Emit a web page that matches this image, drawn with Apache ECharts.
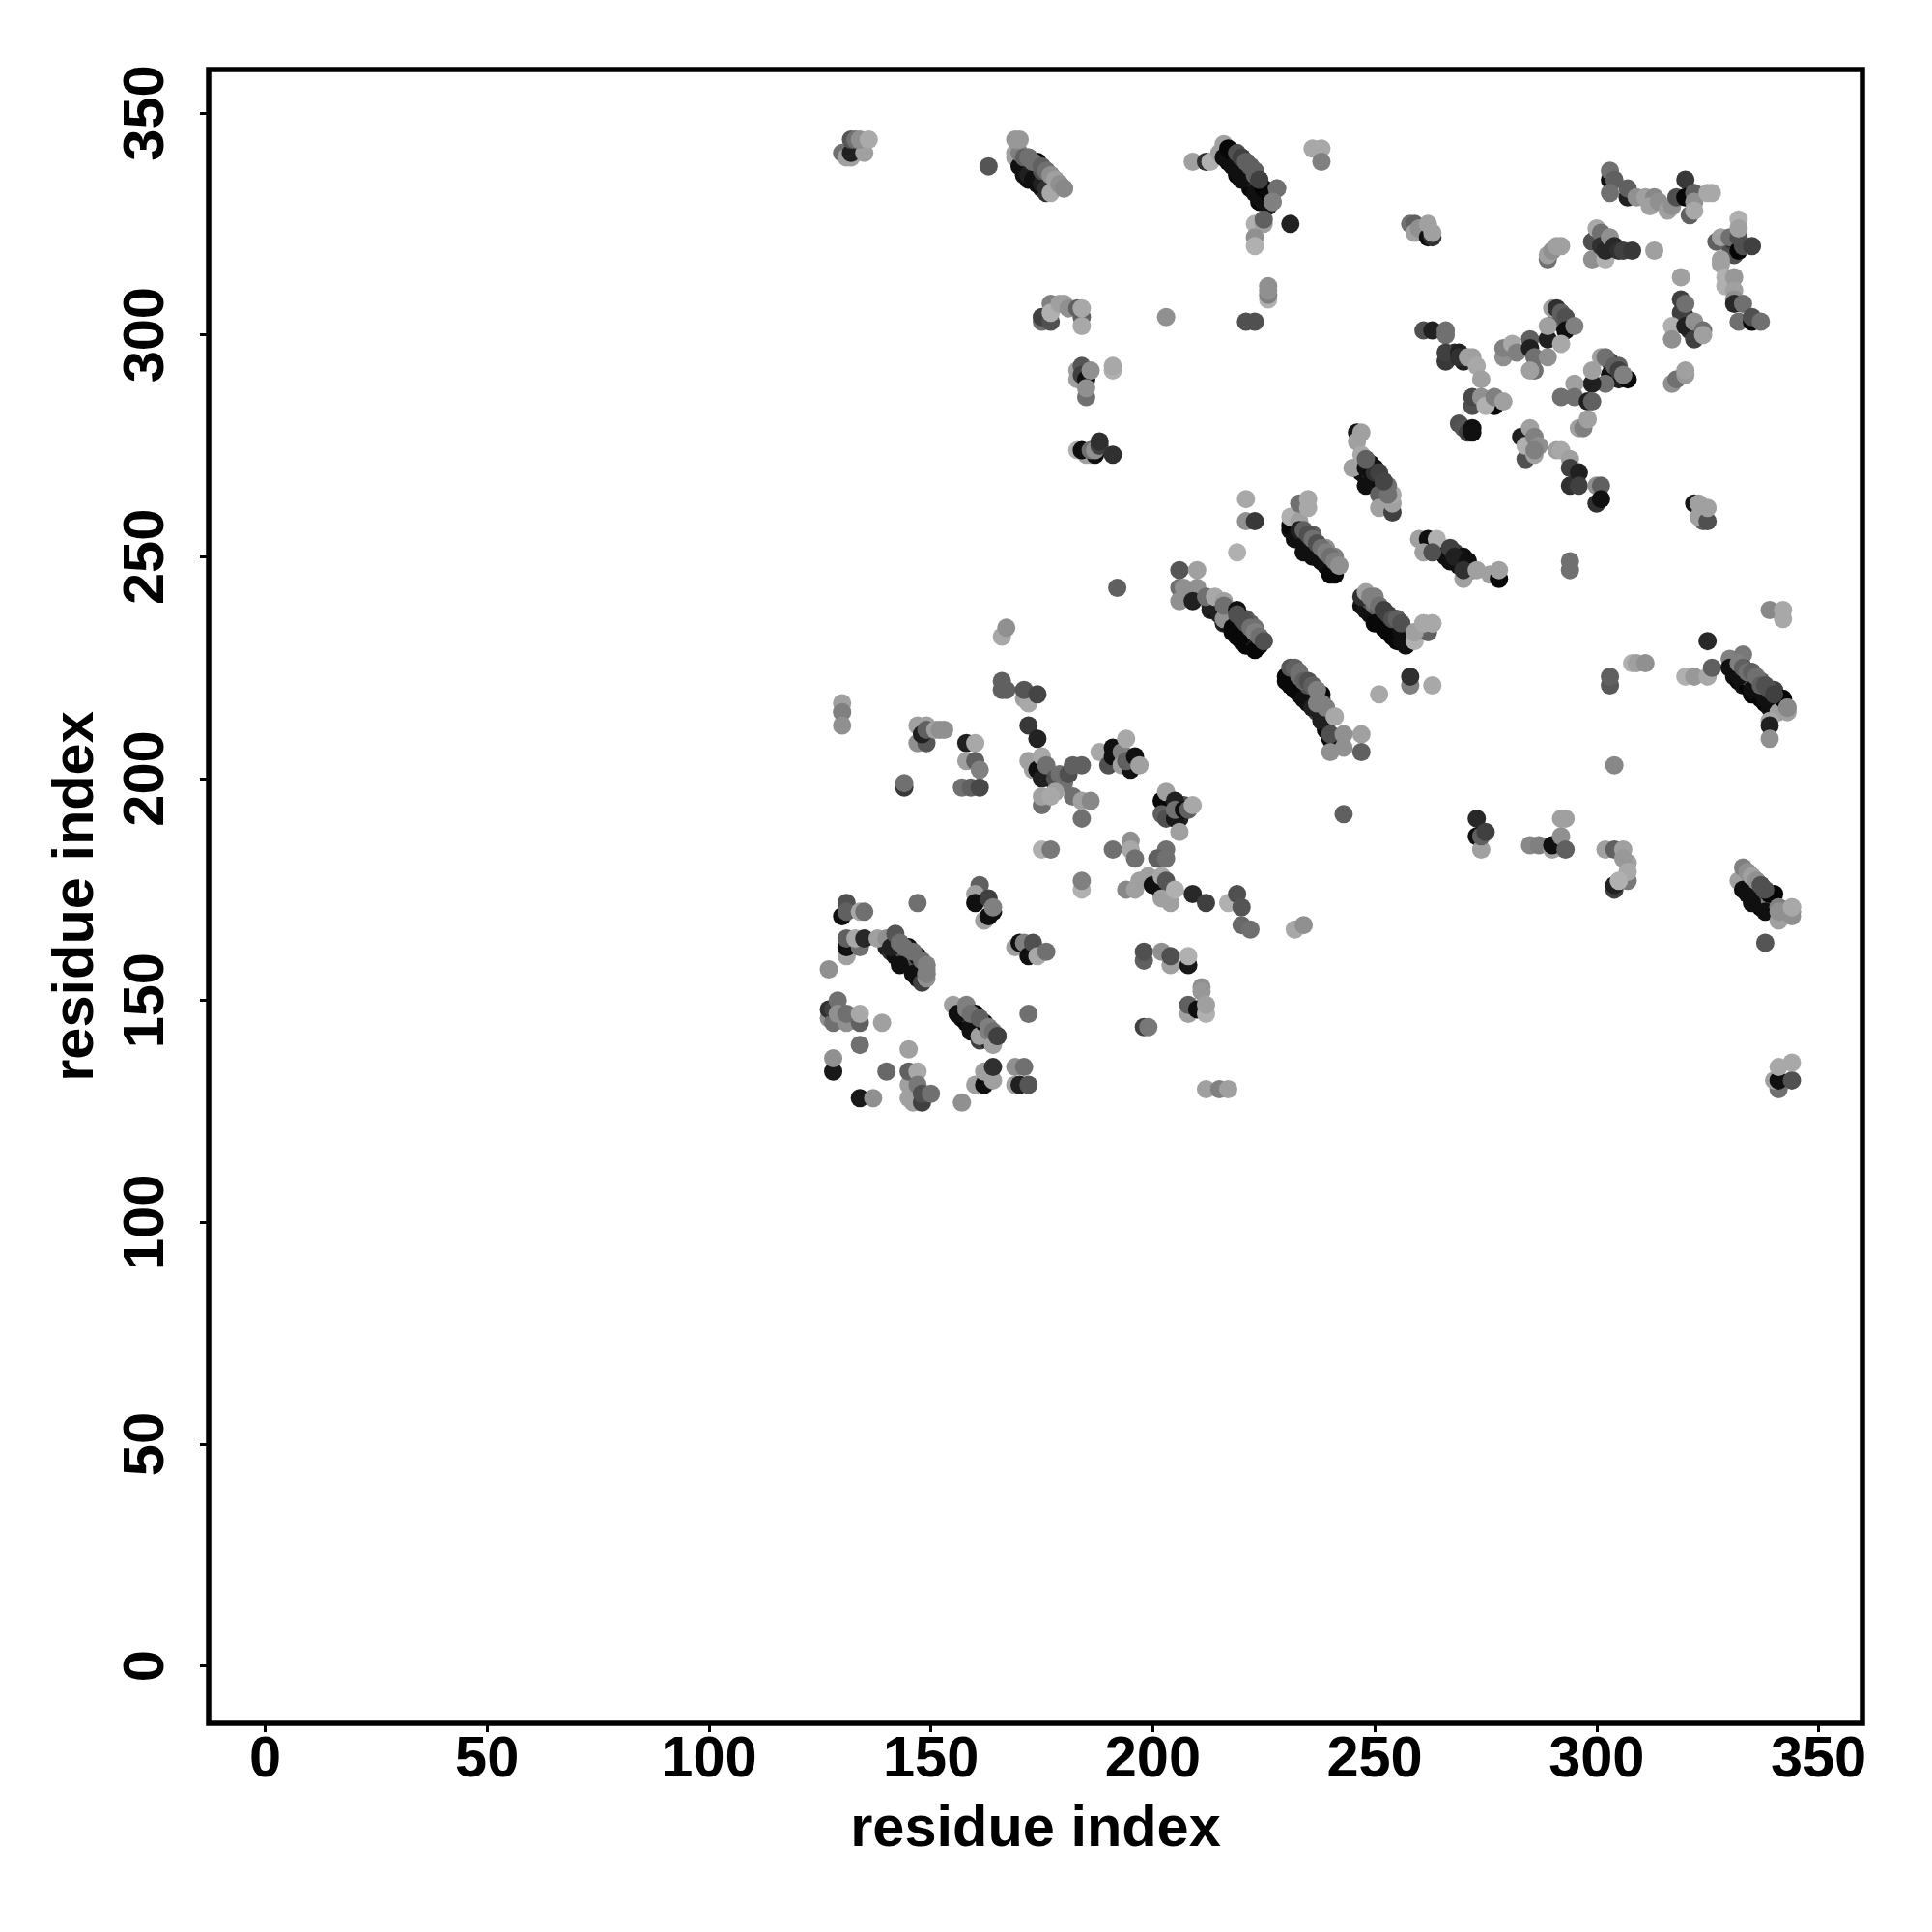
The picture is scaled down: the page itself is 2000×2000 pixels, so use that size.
<!DOCTYPE html>
<html><head><meta charset="utf-8">
<script src="https://cdn.jsdelivr.net/npm/echarts@6/dist/echarts.min.js"></script>
<style>html,body{margin:0;padding:0;background:#fff}#c{width:2000px;height:2000px}</style>
</head><body><div id="c"></div>
<script>
const tickValues=[0,50,100,150,200,250,300,350];
const axisTitle="residue index";
// each point: [residue x, residue y, grey level]; later points sit on top
const clusterFill=[[303,294,0x40],[304,291,0x20],[305,290,0x20],[303,291,0x10],[305,293,0x60],[291,303,0x30],[292,303,0x20],[291,304,0x50],[293,303,0x60],
[192,204,0x10],[192,206,0x20],[193,205,0x40],[195,204,0x20],[196,204,0x40],[203,194,0x10],[204,193,0x20],[204,192,0x30],[205,192,0x10],[206,191,0x20],[204,195,0x60],[206,194,0x80],[207,194,0x50],
[301,321,0x40],[302,322,0x60],[300,322,0x30],[319,303,0x20],[320,304,0x30],[321,301,0x30],[331,320,0x20],[330,320,0x50],[331,321,0x30],[267,295,0x30],[268,296,0x30],[270,294,0x20]];
const bandUnderlay=[[231,256,0x10],[232,255,0x10],[233,254,0x08],[234,253,0x10],[235,252,0x08],[236,251,0x10],[237,250,0x08],[238,249,0x10],[239,248,0x08],[240,247,0x10],[241,246,0x08],[233,257,0x30],[234,255,0x50],[235,254,0x50],[236,253,0x40],[237,252,0x60],[238,251,0x50],[239,250,0x60],[240,249,0x50],[241,248,0x70],
[246,270,0x10],[247,269,0x10],[248,268,0x10],[249,267,0x10],[250,266,0x10],[251,265,0x20],[252,264,0x30],[247,271,0x50],[248,271,0x40],[249,269,0x40],[250,270,0x10],[251,268,0x30],[252,266,0x50],[253,265,0x60],[253,263,0x70],
[213,238,0x20],[214,238,0x15],[215,237,0x20],[216,235,0x20],[217,235,0x10],[218,233,0x08],[219,232,0x08],[220,231,0x08],[221,230,0x08],[222,230,0x08],[217,237,0x60],[218,236,0x50],[219,235,0x40],[220,234,0x40],[221,233,0x40],[222,232,0x30],[223,231,0x30],[224,231,0x30],[221,236,0x55],[222,235,0x60],[223,234,0x70],[224,232,0x55],
[247,239,0x10],[248,238,0x15],[249,237,0x10],[250,236,0x10],[251,235,0x08],[252,234,0x08],[253,234,0x08],[254,232,0x08],[255,231,0x08],[256,231,0x10],[249,240,0x50],[250,239,0x70],[251,238,0x60],[252,237,0x40],[253,236,0x40],[254,235,0x50],[255,234,0x40],[256,234,0x30],
[264,252,0x30],[265,251,0x20],[266,250,0x10],[268,249,0x10],[269,248,0x10],[270,248,0x20],[271,247,0x30],[272,247,0x70],[268,251,0x40],[269,250,0x30],[270,250,0x10],
[230,223,0x08],[231,221,0x08],[232,221,0x08],[233,219,0x10],[234,218,0x10],[235,217,0x10],[236,216,0x20],[237,215,0x40],[238,214,0x20],[239,212,0x30],[239,211,0x08],[232,224,0x50],[233,222,0x60],[234,222,0x60],[236,220,0x60],[237,219,0x70],[238,218,0x60],
[217,339,0x08],[218,339,0x08],[219,336,0x08],[220,336,0x08],[221,335,0x08],[222,333,0x08],[223,333,0x08],[224,330,0x08],[225,330,0x08],[218,340,0x20],[219,339,0x40],[220,338,0x50],[221,337,0x60],[222,336,0x60],[223,335,0x40],[224,333,0x30],[225,331,0x10],[226,331,0x08],[226,329,0x20],
[171,339,0x30],[172,338,0x50],[173,337,0x30],[174,336,0x50],[175,335,0x30],[176,335,0x50],[177,334,0x60],[178,334,0x80],[171,336,0x10],[172,335,0x10],[175,333,0x10],[176,332,0x30],
[140,162,0x20],[141,161,0x30],[142,160,0x10],[143,160,0x10],[144,159,0x10],[145,158,0x10],[146,157,0x10],[147,155,0x10],[148,156,0x20],[144,161,0x50],[146,160,0x60],[147,158,0x50],[148,158,0x30],[149,157,0x70],[142,163,0x60],[141,163,0x50],
[157,146,0x10],[158,145,0x08],[159,143,0x10],[160,143,0x10],[161,141,0x40],[162,142,0x20],[163,141,0x20],[164,141,0x10],[158,147,0x40],[159,146,0x40],[161,145,0x30],[162,144,0x50],[164,142,0x60],[156,148,0x90],
[331,223,0x10],[332,222,0x08],[333,221,0x10],[334,221,0x05],[335,219,0x05],[336,219,0x10],[337,218,0x05],[338,217,0x05],[339,216,0x10],[340,216,0x10],[332,225,0x30],[333,224,0x50],[334,223,0x60],[336,222,0x60],[337,220,0x40],[339,219,0x50],[341,217,0x10],[342,216,0x40],[343,215,0xa0],
[333,176,0x10],[334,174,0x10],[335,174,0x08],[336,173,0x10],[337,171,0x05],[338,172,0x10],[339,171,0x20],[340,170,0x60],[334,178,0x90],[336,177,0x90],[338,174,0x50],[339,172,0x80],[340,172,0x80],[342,170,0x80],[342,169,0x90],[340,174,0x05]];
const topRow=[[130,341,0x70],[131,340,0xa0],[132,340,0xa0],[132,341,0x20],[135,341,0xa0],[132,344,0x55],[133,344,0x70],[134,344,0x90],[136,344,0xaa],
[163,338,0x55],[169,340,0xa0],[169,341,0xa0],[170,338,0x10],[171,337,0x10],[172,336,0x20],[173,335,0x10],[174,334,0x10],[175,334,0x20],[176,333,0x30],[177,332,0xa8],[170,341,0x80],[171,340,0x60],[172,340,0x70],[173,339,0x70],[174,339,0x05],[175,337,0x50],[176,337,0x70],[177,336,0x90],[178,335,0xa0],[179,334,0x90],[180,333,0x88],[169,344,0x98],[170,344,0x98],
[209,339,0xa0],[212,339,0x30],[213,339,0xb0],[216,343,0xa0],[215,341,0xa0],[216,340,0x10],[217,342,0x08],[218,341,0x08],[218,338,0x10],[219,337,0x10],[220,335,0x10],[220,340,0x40],[221,339,0x50],[222,338,0x60],[223,332,0x10],[223,336,0x60],[224,335,0x40],[224,331,0x10],[225,330,0x10],[225,333,0x05],[226,332,0x08],[228,333,0x70],[227,330,0x80],
[223,325,0xb0],[225,325,0xa0],[225,326,0x60],[223,322,0x90],[223,320,0xb0],[231,325,0x22],[236,342,0xa8],[238,342,0xa8],[238,339,0x80]];
const upperLeft=[[175,303,0x70],[175,304,0x40],[177,303,0x50],[177,307,0x80],[177,305,0xb0],[179,307,0xa0],[180,307,0xa0],[181,306,0x90],[183,306,0x60],[184,304,0x60],[184,302,0xa8],[184,306,0xa8],
[203,304,0x90],[226,308,0xb0],[226,309,0x80],[226,310,0x90],[226,311,0x90],[221,303,0x50],[223,303,0x50],
[183,290,0xa0],[183,292,0xa0],[184,293,0x55],[184,291,0x40],[185,290,0x10],[186,292,0x90],[191,292,0xb0],[191,293,0xa8],[185,286,0x70],[185,288,0x90],
[183,274,0xb0],[185,273,0xa0],[186,273,0xa0],[184,274,0x10],[187,273,0x10],[186,274,0x70],[187,274,0x90],[188,275,0x40],[188,276,0x30],[191,273,0x30]];
const upperRight=[[258,325,0x70],[259,325,0x60],[259,323,0xa0],[260,324,0x90],[262,322,0x10],[263,322,0x30],[262,325,0xa0],[263,323,0xa0],
[289,317,0x70],[289,318,0xa0],[290,319,0x90],[291,320,0xa0],[292,320,0xa0],
[299,321,0x50],[300,324,0xa8],[301,323,0x70],[299,317,0x90],[302,317,0xb0],[301,320,0x30],[302,319,0x28],[303,322,0x90],[304,320,0x28],[305,319,0x30],[306,319,0x40],[308,319,0x38],[313,319,0xa0],
[303,335,0x10],[303,337,0x70],[304,335,0x60],[303,332,0x70],[307,331,0x20],[307,333,0x60],[309,331,0x90],[311,331,0xa0],[313,331,0x88],[312,329,0xa0],[314,330,0x90],[316,328,0xa0],[317,329,0x90],
[320,335,0x38],[318,331,0x50],[320,331,0x08],[322,332,0x60],[321,327,0x60],[322,330,0x90],[322,328,0xa8],[325,332,0xa8],[326,332,0xa8],
[327,321,0x60],[328,322,0xa0],[330,322,0x70],[331,318,0x50],[332,319,0x05],[333,320,0x50],[332,322,0x50],[335,320,0x40],[332,326,0xb0],[332,324,0xa0],
[328,317,0xa0],[328,316,0xa0],[329,313,0xb0],[329,311,0xb0],[331,313,0x98],[331,310,0xa0],[331,308,0x90],[331,307,0x28],[333,307,0x70],[332,303,0x70],[335,303,0x08],[335,304,0x50],[337,303,0x70],
[319,313,0xa0],[319,308,0x40],[319,305,0x40],[320,307,0x70],[317,302,0xb0],[317,299,0x90],[320,302,0x20],[322,303,0x90],[322,299,0x40],[324,301,0x70],[324,300,0xa0],
[317,289,0x90],[318,290,0x70],[320,291,0x98],[320,292,0xa0]];
const middleRight=[[261,301,0x50],[263,301,0x20],[266,301,0x70],[266,300,0x70],[266,294,0x38],[266,296,0x40],[269,296,0x20],[269,295,0x30],[271,295,0xa0],[272,295,0xa0],[273,293,0xa8],[274,290,0xa0],
[272,284,0x50],[272,286,0x48],[277,284,0x08],[274,286,0x90],[275,284,0xb0],[277,286,0x80],[279,285,0xa0],
[269,280,0x50],[270,279,0x55],[271,278,0x40],[272,279,0x10],[272,278,0x10],
[279,295,0x90],[279,297,0x80],[281,298,0xa8],[282,296,0x80],[285,299,0x60],[285,297,0x20],[286,295,0x70],[286,292,0x70],[285,292,0xa0],[289,295,0x90],[289,299,0x20],[289,302,0xa0],[290,306,0xa0],[291,306,0x30],[292,305,0x60],[293,304,0x50],[293,301,0x10],[295,302,0x80],[292,298,0xa8],
[301,295,0xa0],[302,295,0x70],[302,289,0x70],[304,293,0x60],[305,292,0x40],[307,290,0x08],[306,291,0x80],[299,289,0x20],[299,292,0xa0],[295,289,0xa0],[292,286,0x70],[295,286,0x70],[298,285,0x20],[299,285,0x60],[296,279,0xa0],[297,279,0x80],[298,281,0xa0],
[284,272,0x50],[283,277,0x20],[284,275,0xb0],[285,279,0xa0],[286,277,0x80],[286,273,0xa0],[287,275,0x90],[286,274,0x80],[291,274,0xa0],[292,274,0xa8],[294,272,0xa0],[294,270,0x40],[294,266,0x30],[296,269,0x20],[296,266,0x40],[300,266,0x90],[301,266,0x60],[300,262,0x30],[301,263,0x10],
[322,262,0x18],[323,262,0xa0],[324,258,0x60],[323,259,0xa0],[325,258,0x50],[325,261,0xa0]];
const diagonalBands=[[245,270,0xa0],[246,278,0x15],[247,278,0xa0],[246,276,0xa0],[247,273,0xa8],[248,270,0x10],[248,266,0x10],[249,271,0x10],[250,268,0x10],[250,269,0x30],[252,267,0x45],[251,264,0x60],[251,261,0xa0],[254,260,0x40],[254,262,0xa0],[254,264,0xa8],
[231,257,0x08],[232,254,0x10],[234,251,0x10],[236,250,0x10],[238,249,0x10],[240,246,0x08],[231,259,0xb0],[233,258,0xa0],[233,262,0x70],[235,263,0xa8],[235,261,0xa8],[233,256,0x20],[236,255,0x60],[237,253,0x40],[239,252,0x90],[241,250,0x80],[242,248,0x90],
[221,263,0xa8],[221,258,0x90],[223,258,0x38],[219,251,0xb0],[192,243,0x60],
[206,247,0x55],[210,247,0xa0],[206,243,0x70],[207,243,0x90],[210,243,0x90],[206,240,0x90],[209,240,0x20],[213,239,0x20],[212,241,0x70],[214,241,0xa8],[216,240,0xa0],[216,236,0x90],[216,239,0x70],[219,238,0x10],[218,234,0x08],[220,232,0x08],[223,229,0x08],[224,230,0x08],[221,235,0x50],[223,233,0x80],[225,231,0x50],
[247,241,0x30],[248,242,0xa0],[250,241,0x80],[250,235,0x08],[253,233,0x08],[252,238,0x30],[254,236,0x40],[255,236,0x60],[256,233,0x10],[257,230,0x10],[259,231,0xb0],[259,233,0xa0],[262,233,0x60],[261,235,0xa8],[263,235,0xa8],
[260,254,0xa0],[262,254,0x10],[264,254,0xb0],[261,251,0xa0],[263,251,0x50],[267,249,0x10],[267,252,0x40],[268,250,0x20],[271,249,0x10],[270,245,0xa0],[270,247,0x30],[273,247,0xa0],[276,246,0xa0],[278,245,0x08],[278,247,0xa0],[294,247,0x70],[294,249,0x70],
[230,222,0x08],[232,220,0x08],[234,218,0x10],[236,216,0x20],[231,225,0x55],[233,223,0x70],[235,221,0x50],[238,219,0x08],[237,217,0x80],[239,216,0x80],[238,213,0x20],[241,214,0xa8],[240,209,0x08],[240,210,0x50],[240,206,0x90],[243,210,0x90],[243,207,0x90],[247,210,0xa0],[247,206,0x60],
[258,221,0x80],[258,223,0x30],[263,221,0xa8],[251,219,0xa8]];
const middleLeft=[[166,232,0xa8],[167,234,0x90],[166,222,0x60],[166,220,0x60],[167,220,0x60],[171,218,0xa0],[172,217,0xa8],[171,220,0x55],[174,219,0x45],[172,212,0x38],[174,209,0x22],
[130,217,0xa0],[130,215,0x80],[130,212,0x90],[147,212,0xa0],[149,212,0xa0],[147,208,0x90],[149,208,0x55],[148,210,0x20],[149,211,0x60],[151,211,0xa0],[152,211,0x90],[153,211,0x90],
[158,208,0x20],[160,208,0xa8],[158,204,0xa0],[160,204,0x60],[161,202,0x80],[157,198,0x70],[159,198,0x60],[161,198,0x48],[144,198,0x38],[144,199,0x70],
[172,204,0xa0],[173,202,0xa0],[174,202,0x10],[175,205,0xa8],[177,200,0x10],[175,200,0x20],[176,203,0x70],[178,200,0x50],[179,201,0x70],[180,199,0x70],[181,201,0x50],[182,203,0x60],[184,203,0x60],
[175,194,0x70],[175,196,0xa0],[178,197,0xa0],[177,196,0xa8],[182,196,0x70],[184,195,0xa0],[186,195,0x88],[184,191,0x70],[175,184,0xb0],[177,184,0x78],[184,175,0xb0],[184,177,0x80],
[188,206,0xa8],[190,203,0x50],[191,205,0x10],[191,207,0x10],[193,206,0x80],[193,203,0xa0],[195,202,0x10],[194,204,0x60],[196,205,0x10],[194,209,0xa8],[197,203,0xa0],
[202,195,0x08],[203,197,0xa0],[202,192,0x60],[203,191,0x50],[205,191,0x18],[206,188,0xa0],[205,195,0x20],[205,193,0x70],[207,193,0x10],[208,193,0x60],[209,194,0xa8],
[191,184,0x70],[195,186,0x90],[195,184,0xa8],[196,182,0x70],[203,184,0x70],[201,182,0x60],[203,182,0x70],[194,175,0x88],[196,175,0xa0],[197,177,0xa0],[199,178,0xa0],[200,176,0x10],[202,174,0x10],[202,178,0xa8],[202,173,0xa0],[203,177,0x55],[204,172,0xa0],[205,175,0xb0],
[209,174,0x28],[212,172,0x40],[217,172,0xb0],[219,174,0x50],[220,171,0x55],[220,167,0x68],[222,166,0x70],[232,166,0xa8],[234,167,0x90]];
const lowerLeft=[[130,169,0x10],[131,172,0x50],[131,170,0x60],[134,170,0xa8],[135,170,0x70],[131,160,0xa0],[131,162,0x10],[131,164,0x60],[134,162,0x70],[133,164,0xa8],[135,164,0x28],[127,157,0x90],[147,172,0x70],
[138,164,0xa0],[140,164,0x90],[141,162,0x20],[143,158,0x10],[146,156,0x10],[148,154,0x40],[142,165,0x55],[143,163,0x70],[145,162,0x10],[147,160,0x08],[149,158,0x80],[149,156,0x80],[149,155,0x90],
[161,176,0x60],[160,174,0xa0],[160,172,0x10],[162,168,0xa0],[163,169,0x10],[164,170,0x10],[163,173,0x40],[164,171,0x80],
[169,162,0xa0],[170,163,0x10],[171,163,0x80],[172,160,0x10],[173,163,0x50],[174,160,0xa8],[176,161,0x70],
[198,159,0x60],[198,161,0x50],[202,161,0x90],[204,158,0xa0],[204,160,0x50],[208,158,0x18],[208,160,0xb0],
[211,153,0x90],[211,152,0x98],[208,147,0xa0],[208,149,0x60],[210,148,0x10],[212,147,0xb0],[212,149,0xa0],[198,144,0x40],[199,144,0x78],[212,130,0xa0],[215,130,0x80],[217,130,0xa0],
[127,146,0x90],[127,148,0x30],[128,145,0x70],[128,148,0x40],[129,150,0x70],[129,147,0x90],[131,145,0x90],[131,147,0x70],[134,145,0x60],[134,147,0xa8],[139,145,0xa0],[134,140,0x70],[145,139,0xa0],
[128,134,0x18],[128,137,0x90],[140,134,0x68],[145,131,0xa0],[145,128,0xa0],[146,127,0xa0],[145,134,0x60],[147,134,0xa8],[147,131,0x78],[148,127,0x40],[148,129,0x50],[150,129,0x70],[134,128,0x18],[137,128,0x90],[157,127,0x90],
[155,149,0xa0],[156,147,0x10],[158,149,0x80],[159,144,0x10],[160,147,0x05],[161,142,0xa0],[162,145,0x10],[163,143,0x80],[164,140,0xa0],[165,142,0x40],
[160,131,0xa0],[162,131,0x10],[162,134,0xa0],[164,132,0xa0],[164,135,0x30],[169,131,0xa0],[170,131,0x20],[169,135,0x90],[171,135,0x70],[172,131,0x55],[172,147,0x70]];
const lowerRight=[[339,238,0x88],[342,236,0xa8],[342,238,0xa8],[325,231,0x28],[308,226,0xb0],[309,226,0xa0],[311,226,0x90],[303,221,0x58],[303,223,0x60],
[320,223,0xb0],[322,223,0x98],[325,223,0xa8],[326,225,0x60],[330,227,0x80],[330,225,0x10],[332,223,0x10],[333,228,0x78],[333,225,0x08],[335,220,0x10],[335,224,0x40],[337,222,0x60],[338,218,0x10],[340,220,0x40],[341,215,0xa0],[342,218,0x05],[343,216,0x88],[339,213,0xa8],[339,212,0x20],[339,209,0x90],
[304,203,0x88],[243,192,0x60],[273,191,0x28],[273,187,0x10],[274,184,0xa0],[274,187,0x60],[275,188,0x40],[292,191,0xa0],[293,191,0xa0],[285,185,0x88],[287,185,0x80],[290,184,0xa0],[290,185,0x10],[292,187,0x90],[293,184,0x60],
[302,184,0xa0],[304,184,0x60],[306,184,0xa0],[307,181,0xa0],[306,182,0x98],[307,177,0x78],[307,179,0xa8],[304,175,0x40],[304,176,0x20],[305,177,0xb0],
[332,177,0xa0],[333,180,0x80],[333,175,0x10],[335,178,0xa0],[335,172,0x10],[337,176,0x50],[338,170,0x10],[339,174,0x05],[341,168,0xa0],[341,171,0x80],[344,170,0x90],[344,169,0x90],[344,171,0xa8],[338,163,0x55],
[341,130,0x70],[340,132,0xa0],[341,132,0x10],[344,132,0x50],[341,135,0xa8],[344,136,0xa8]];
const bandOverlay=[[234,256,0x60],[235,255,0x50],[236,254,0x70],[237,253,0x50],[238,252,0x70],[239,251,0x80],[240,250,0x70],[241,249,0x80],[242,248,0x90],
[248,272,0x60],[251,269,0x40],[253,266,0x70],[253,264,0x70],[252,267,0x45],
[219,237,0x50],[220,236,0x50],[221,235,0x50],[222,234,0x70],[223,233,0x80],[224,232,0x70],[225,231,0x50],
[249,241,0x80],[250,240,0x80],[251,239,0x70],[252,238,0x40],[253,237,0x40],[254,236,0x50],[255,236,0x60],[256,235,0x50],[259,233,0xa0],[261,235,0xa8],[263,235,0xa8],
[232,225,0x60],[233,224,0x70],[234,222,0x60],[235,222,0x50],[236,221,0x60],[237,220,0x80],[238,217,0x80],[239,216,0x80],[241,214,0xa8],
[219,341,0x50],[220,340,0x40],[221,339,0x60],[222,338,0x60],[223,337,0x60],[224,335,0x40],[228,333,0x70],[227,330,0x80],
[332,226,0x80],[333,225,0x60],[334,224,0x70],[335,224,0x60],[336,223,0x70],[337,221,0x60],[338,221,0x50],[339,220,0x50],[340,219,0x40],[343,216,0x88],
[334,179,0x90],[335,178,0xa0],[336,177,0x90],[337,176,0x50],[338,175,0x50],[341,171,0x80],[341,170,0x90],[344,170,0x90],[344,171,0xa8],
[172,340,0x70],[173,339,0x70],[175,338,0x60],[176,337,0x70],[177,336,0x90],[178,335,0xa0],[179,334,0x90],[180,333,0x88],
[143,163,0x70],[144,162,0x70],[146,161,0x70],[148,159,0x70],[149,158,0x80],[149,156,0x80],
[158,148,0x80],[159,147,0x70],[161,146,0x60],[163,144,0x80],[164,143,0x70],[165,142,0x40]];

const points=[].concat(clusterFill,bandUnderlay,topRow,upperLeft,upperRight,middleRight,diagonalBands,middleLeft,lowerLeft,lowerRight,bandOverlay);
const font={fontFamily:'"Liberation Sans",Arial,sans-serif',fontWeight:'bold',color:'#000'};
function axis(extra){return Object.assign({
  type:'value',
  name:axisTitle,nameLocation:'middle',
  nameTextStyle:Object.assign({fontSize:59.5},font),
  splitLine:{show:false},
  axisLine:{show:false,onZero:false},
  axisTick:{show:true,length:9,inside:false,customValues:tickValues,lineStyle:{color:'#000',width:3}},
},extra);}
const chart=echarts.init(document.getElementById('c'),null,{renderer:'canvas'});
chart.setOption({
  animation:false,
  backgroundColor:'#fff',
  grid:{left:216,right:72,top:72,bottom:216,show:true,borderColor:'#000',borderWidth:5.5,backgroundColor:'transparent',containLabel:false},
  xAxis:axis({min:-12.73,max:359.9,nameGap:81,axisLabel:Object.assign({show:true,fontSize:59.5,margin:9,customValues:tickValues,hideOverlap:false},font)}),
  yAxis:axis({min:-12.9,max:359.8,nameGap:106,nameRotate:90,axisLabel:Object.assign({show:true,fontSize:59.5,rotate:90,margin:33,customValues:tickValues,hideOverlap:false,align:'center',verticalAlign:'bottom'},font)}),
  series:[{
    type:'scatter',symbol:'circle',symbolSize:19,clip:false,large:false,progressive:0,
    data:points,
    itemStyle:{opacity:1,color:function(p){const g=p.value[2];return 'rgb('+g+','+g+','+g+')';}},
    emphasis:{disabled:true},silent:true
  }]
});
</script></body></html>
